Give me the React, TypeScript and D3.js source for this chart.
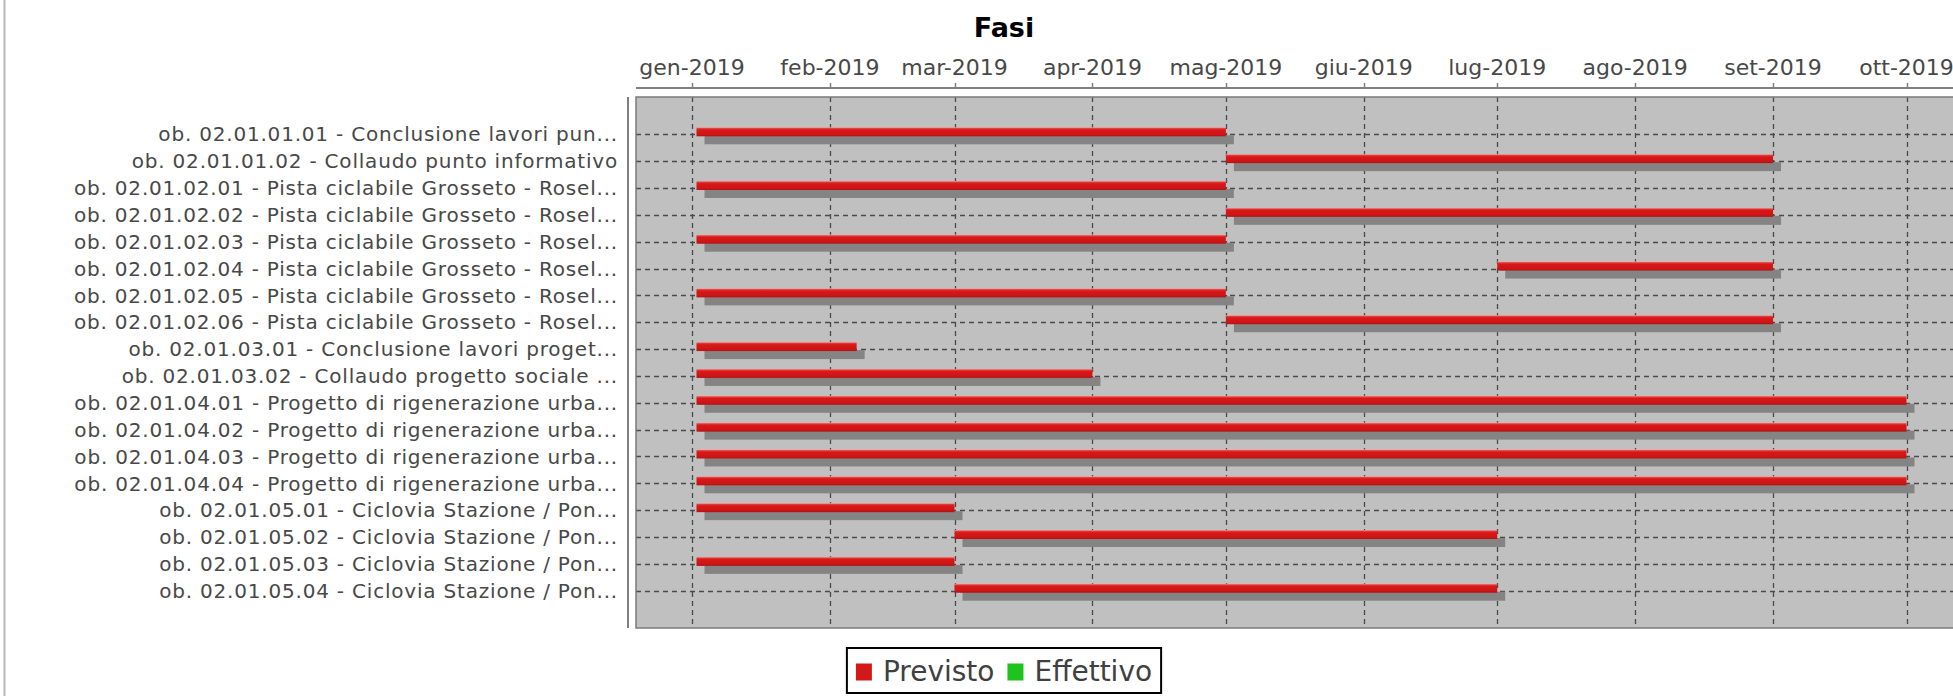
import React, { useRef, useEffect } from "react";
import * as d3 from "d3";

// categorie (attività) del gantt
const CATEGORIES = [
  "ob. 02.01.01.01 - Conclusione lavori pun...",
  "ob. 02.01.01.02 - Collaudo punto informativo",
  "ob. 02.01.02.01 - Pista ciclabile Grosseto - Rosel...",
  "ob. 02.01.02.02 - Pista ciclabile Grosseto - Rosel...",
  "ob. 02.01.02.03 - Pista ciclabile Grosseto - Rosel...",
  "ob. 02.01.02.04 - Pista ciclabile Grosseto - Rosel...",
  "ob. 02.01.02.05 - Pista ciclabile Grosseto - Rosel...",
  "ob. 02.01.02.06 - Pista ciclabile Grosseto - Rosel...",
  "ob. 02.01.03.01 - Conclusione lavori proget...",
  "ob. 02.01.03.02 - Collaudo progetto sociale ...",
  "ob. 02.01.04.01 - Progetto di rigenerazione urba...",
  "ob. 02.01.04.02 - Progetto di rigenerazione urba...",
  "ob. 02.01.04.03 - Progetto di rigenerazione urba...",
  "ob. 02.01.04.04 - Progetto di rigenerazione urba...",
  "ob. 02.01.05.01 - Ciclovia Stazione / Pon...",
  "ob. 02.01.05.02 - Ciclovia Stazione / Pon...",
  "ob. 02.01.05.03 - Ciclovia Stazione / Pon...",
  "ob. 02.01.05.04 - Ciclovia Stazione / Pon...",
];

// serie "Previsto": inizio e fine
const PREVISTO_START = [
  "2019-01-02", "2019-05-01", "2019-01-02", "2019-05-01", "2019-01-02",
  "2019-07-01", "2019-01-02", "2019-05-01", "2019-01-02", "2019-01-02",
  "2019-01-02", "2019-01-02", "2019-01-02", "2019-01-02", "2019-01-02",
  "2019-03-01", "2019-01-02", "2019-03-01",
];
const PREVISTO_END = [
  "2019-05-01", "2019-09-01", "2019-05-01", "2019-09-01", "2019-05-01",
  "2019-09-01", "2019-05-01", "2019-09-01", "2019-02-07", "2019-04-01",
  "2019-10-01", "2019-10-01", "2019-10-01", "2019-10-01", "2019-03-01",
  "2019-07-01", "2019-03-01", "2019-07-01",
];

const SERIES = ["Previsto", "Effettivo"];
const SERIES_COLORS = ["#d01a1a", "#1fc21f"];

const MESI = ["gen", "feb", "mar", "apr", "mag", "giu", "lug", "ago", "set", "ott", "nov", "dic"];

const W = 1953;
const H = 696;

const App: React.FC = () => {
  const svgRef = useRef<SVGSVGElement | null>(null);

  useEffect(() => {
    if (!svgRef.current) return;
    const svg = d3.select(svgRef.current);
    svg.selectAll("*").remove();

    const parse = d3.timeParse("%Y-%m-%d");
    const data = CATEGORIES.map((name, i) => ({
      name,
      start: parse(PREVISTO_START[i]) as Date,
      end: parse(PREVISTO_END[i]) as Date,
    }));

    const font = "DejaVu Sans, Verdana, sans-serif";
    const top = 97;
    const bottom = 628;

    // range with 5% margins like the original
    const minD = d3.min(data, (d) => d.start) as Date;
    const maxD = d3.max(data, (d) => d.end) as Date;
    const span = +maxD - +minD;
    const x = d3
      .scaleTime()
      .domain([new Date(+minD - span * 0.05), new Date(+maxD + span * 0.05)])
      .range([636, 1967]);
    const [left, right] = x.range();

    const ph = bottom - top;
    const y = d3
      .scaleBand<string>()
      .domain(CATEGORIES)
      .range([top + ph * 0.05, bottom - ph * 0.05])
      .paddingInner(0.2)
      .paddingOuter(0);
    const yc = (name: string) => (y(name) as number) + y.bandwidth() / 2;

    const defs = svg.append("defs");
    const grad = defs
      .append("linearGradient")
      .attr("id", "barGrad")
      .attr("x1", 0)
      .attr("y1", 0)
      .attr("x2", 0)
      .attr("y2", 1);
    grad.append("stop").attr("offset", "0%").attr("stop-color", "#f0a6a6");
    grad.append("stop").attr("offset", "14%").attr("stop-color", "#e23a3a");
    grad.append("stop").attr("offset", "30%").attr("stop-color", "#d81818");
    grad.append("stop").attr("offset", "80%").attr("stop-color", "#cc1515");
    grad.append("stop").attr("offset", "100%").attr("stop-color", "#b31010");

    defs
      .append("clipPath")
      .attr("id", "plotClip")
      .append("rect")
      .attr("x", left)
      .attr("y", top)
      .attr("width", right - left)
      .attr("height", ph);

    // bordo sinistro dell'immagine
    svg
      .append("line")
      .attr("x1", 4.5)
      .attr("x2", 4.5)
      .attr("y1", 0)
      .attr("y2", H)
      .attr("stroke", "#b8b8b8")
      .attr("stroke-width", 2);

    // titolo
    svg
      .append("text")
      .attr("x", 1004)
      .attr("y", 37)
      .attr("text-anchor", "middle")
      .attr("font-family", font)
      .attr("font-weight", "bold")
      .attr("font-size", 27)
      .attr("fill", "#000")
      .text("Fasi");

    // sfondo plot
    svg
      .append("rect")
      .attr("x", left)
      .attr("y", top)
      .attr("width", right - left)
      .attr("height", ph)
      .attr("fill", "#c0c0c0");

    const months = x.ticks(d3.timeMonth.every(1) as d3.TimeInterval);

    const grid = svg.append("g").attr("clip-path", "url(#plotClip)");
    // griglia verticale (mesi)
    grid
      .selectAll("line.v")
      .data(months)
      .join("line")
      .attr("class", "v")
      .attr("x1", (d) => Math.round(x(d)) + 0.5)
      .attr("x2", (d) => Math.round(x(d)) + 0.5)
      .attr("y1", top)
      .attr("y2", bottom)
      .attr("stroke", "#4a4a4a")
      .attr("stroke-width", 1.3)
      .attr("stroke-dasharray", "5,4");
    // griglia orizzontale (categorie)
    grid
      .selectAll("line.h")
      .data(CATEGORIES)
      .join("line")
      .attr("class", "h")
      .attr("x1", left)
      .attr("x2", right)
      .attr("y1", (d) => Math.round(yc(d)) + 0.5)
      .attr("y2", (d) => Math.round(yc(d)) + 0.5)
      .attr("stroke", "#4a4a4a")
      .attr("stroke-width", 1.3)
      .attr("stroke-dasharray", "5,4");

    // barre (ombra + barra)
    const barH = 9;
    const barOff = -7;
    const sh = 8;
    const bars = svg.append("g").attr("clip-path", "url(#plotClip)");
    bars
      .selectAll("rect.shadow")
      .data(data)
      .join("rect")
      .attr("class", "shadow")
      .attr("x", (d) => x(d.start) + sh)
      .attr("y", (d) => yc(d.name) + barOff + sh)
      .attr("width", (d) => x(d.end) - x(d.start))
      .attr("height", barH)
      .attr("fill", "#848484");
    bars
      .selectAll("rect.bar")
      .data(data)
      .join("rect")
      .attr("class", "bar")
      .attr("x", (d) => x(d.start))
      .attr("y", (d) => yc(d.name) + barOff)
      .attr("width", (d) => x(d.end) - x(d.start))
      .attr("height", barH)
      .attr("fill", "url(#barGrad)");

    // bordo plot
    svg
      .append("rect")
      .attr("x", left)
      .attr("y", top)
      .attr("width", right - left)
      .attr("height", ph)
      .attr("fill", "none")
      .attr("stroke", "#7a7a7a")
      .attr("stroke-width", 1.5);

    // asse temporale in alto
    const axisY = 88;
    svg
      .append("line")
      .attr("x1", left)
      .attr("x2", right)
      .attr("y1", axisY)
      .attr("y2", axisY)
      .attr("stroke", "#808080")
      .attr("stroke-width", 2);
    const ticks = svg.append("g");
    ticks
      .selectAll("line")
      .data(months)
      .join("line")
      .attr("x1", (d) => Math.round(x(d)) + 0.5)
      .attr("x2", (d) => Math.round(x(d)) + 0.5)
      .attr("y1", axisY - 5)
      .attr("y2", axisY)
      .attr("stroke", "#808080")
      .attr("stroke-width", 1.5);
    ticks
      .selectAll("text")
      .data(months)
      .join("text")
      .attr("x", (d) => x(d))
      .attr("y", 75)
      .attr("text-anchor", "middle")
      .attr("font-family", font)
      .attr("font-size", 22)
      .attr("fill", "#484848")
      .text((d) => `${MESI[d.getMonth()]}-${d.getFullYear()}`);

    // asse categorie a sinistra
    svg
      .append("line")
      .attr("x1", 628)
      .attr("x2", 628)
      .attr("y1", top)
      .attr("y2", bottom)
      .attr("stroke", "#808080")
      .attr("stroke-width", 2);
    svg
      .append("g")
      .selectAll("text")
      .data(CATEGORIES)
      .join("text")
      .attr("x", 618)
      .attr("y", (d) => yc(d))
      .attr("dy", "0.36em")
      .attr("text-anchor", "end")
      .attr("font-family", font)
      .attr("font-size", 20)
      .attr("letter-spacing", 0.8)
      .attr("fill", "#484848")
      .text((d) => d);

    // legenda
    const leg = svg.append("g");
    const legFont = 28;
    const sq = 16;
    const pad = 9;
    const items: { w: number; color: string; label: string }[] = [];
    SERIES.forEach((s, i) => {
      const t = leg
        .append("text")
        .attr("font-family", font)
        .attr("font-size", legFont)
        .text(s);
      items.push({ w: (t.node() as SVGTextElement).getComputedTextLength(), color: SERIES_COLORS[i], label: s });
      t.remove();
    });
    const gapSq = 11;
    const gapItem = 13;
    const totalW =
      pad * 2 + items.reduce((a, it) => a + sq + gapSq + it.w, 0) + gapItem * (items.length - 1);
    const legX = 1004 - totalW / 2;
    const legY = 648;
    const legH = 45;
    leg
      .append("rect")
      .attr("x", legX)
      .attr("y", legY)
      .attr("width", totalW)
      .attr("height", legH)
      .attr("fill", "#fff")
      .attr("stroke", "#000")
      .attr("stroke-width", 2);
    let cx = legX + pad;
    items.forEach((it) => {
      leg
        .append("rect")
        .attr("x", cx)
        .attr("y", legY + legH / 2 - sq / 2 + 1)
        .attr("width", sq)
        .attr("height", sq + 1)
        .attr("fill", it.color);
      cx += sq + gapSq;
      leg
        .append("text")
        .attr("x", cx)
        .attr("y", legY + legH / 2)
        .attr("dy", "0.36em")
        .attr("font-family", font)
        .attr("font-size", legFont)
        .attr("fill", "#404040")
        .text(it.label);
      cx += it.w + gapItem;
    });
  }, []);

  return (
    <svg
      ref={svgRef}
      width={W}
      height={H}
      style={{ position: "absolute", left: 0, top: 0, background: "#fff" }}
    />
  );
};

export default App;
